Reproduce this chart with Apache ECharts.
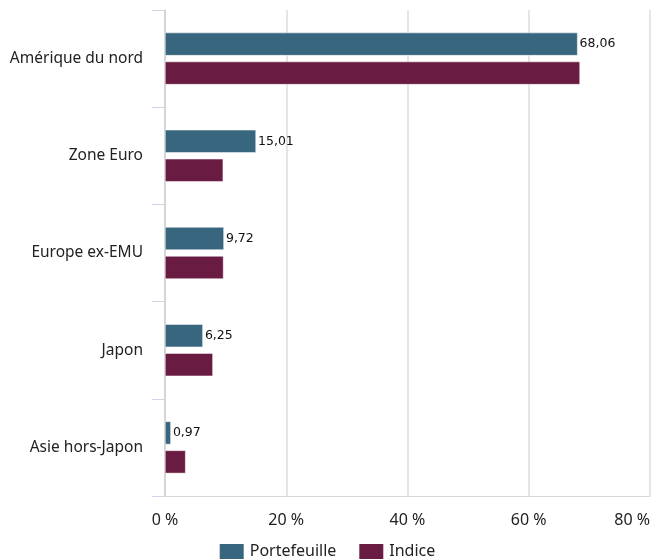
<!DOCTYPE html>
<html>
<head>
<meta charset="utf-8">
<script src="https://cdn.jsdelivr.net/npm/echarts@6/dist/echarts.min.js"></script>
<style>
  html, body { margin: 0; padding: 0; background: #fff; }
  #chart { width: 653px; height: 560px; }
</style>
</head>
<body>
<div id="chart"></div>
<script>
const categories = ['Amérique du nord', 'Zone Euro', 'Europe ex-EMU', 'Japon', 'Asie hors-Japon']
const portefeuille = [68.06, 15.01, 9.72, 6.25, 0.97]
const indice = [68.45, 9.6, 9.65, 7.9, 3.4]
const xTicks = [0, 20, 40, 60, 80]

const chart = echarts.init(document.getElementById('chart'))

const fmt = v => v.toFixed(2).replace('.', ',')

const option = {
  animation: false,
  textStyle: { fontFamily: 'Noto Sans' },
  grid: { left: 165, right: 3, top: 10, bottom: 64 },
  legend: {
    data: ['Portefeuille', 'Indice'],
    top: 537,
    left: 'center',
    itemWidth: 26,
    itemHeight: 17,
    itemGap: 21,
    icon: 'rect',
    textStyle: { fontSize: 16, color: '#222', fontFamily: 'Noto Sans' }
  },
  xAxis: {
    type: 'value',
    min: xTicks[0],
    max: xTicks[xTicks.length - 1],
    interval: 20,
    axisLine: { show: true, lineStyle: { color: '#d8d8d8' } },
    axisTick: { show: false },
    splitLine: { show: true, lineStyle: { color: '#dcdcdc', width: 1.5 } },
    axisLabel: {
      fontSize: 16,
      color: '#222',
      margin: 16,
      alignMaxLabel: 'right',
      formatter: v => v + ' %'
    }
  },
  yAxis: {
    type: 'category',
    data: categories,
    inverse: true,
    axisLine: { show: true, lineStyle: { color: '#d0d0d0', width: 1.5 } },
    axisTick: { show: true, length: 13, lineStyle: { color: '#ccd6eb' } },
    axisLabel: { fontSize: 15.5, color: '#222', margin: 22 },
    splitLine: { show: false }
  },
  series: [
    {
      name: 'Portefeuille',
      type: 'bar',
      data: portefeuille,
      barWidth: 23,
      barGap: '26%',
      itemStyle: { color: '#37667e', borderColor: '#fff', borderWidth: 0.5 },
      label: {
        show: true,
        position: 'right',
        distance: 2,
        fontSize: 12.5,
        color: '#111',
        fontFamily: 'DejaVu Sans',
        formatter: p => fmt(p.value)
      }
    },
    {
      name: 'Indice',
      type: 'bar',
      data: indice,
      barWidth: 23,
      barGap: '26%',
      itemStyle: { color: '#6a1b42', borderColor: '#fff', borderWidth: 0.5 }
    }
  ]
}

chart.setOption(option)
</script>
</body>
</html>
